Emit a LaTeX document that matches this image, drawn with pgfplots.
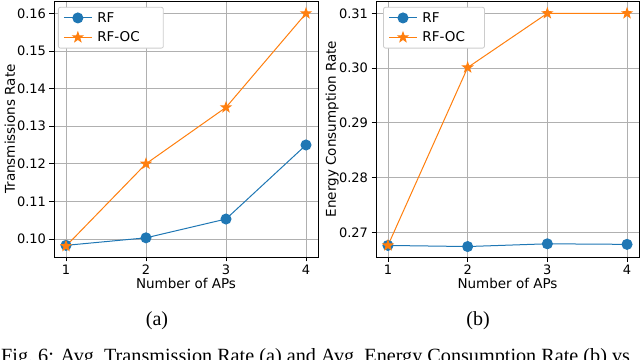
\documentclass[border=0pt]{standalone}
\usepackage{fontspec}
\setmainfont{Liberation Serif}
\newfontfamily\dejavu{DejaVu Sans}
\usepackage{pgfplots}
\pgfplotsset{compat=1.18}

\definecolor{tabblue}{HTML}{1F77B4}
\definecolor{taborange}{HTML}{FF7F0E}
\definecolor{gridgray}{HTML}{B0B0B0}
\definecolor{legendgray}{HTML}{CCCCCC}

% filled five-pointed star, like matplotlib's '*'
\pgfdeclareplotmark{fstar}{%
  \pgfpathmoveto{\pgfpointpolar{90}{\pgfplotmarksize}}%
  \pgfpathlineto{\pgfpointpolar{126}{0.4\pgfplotmarksize}}%
  \pgfpathlineto{\pgfpointpolar{162}{\pgfplotmarksize}}%
  \pgfpathlineto{\pgfpointpolar{198}{0.4\pgfplotmarksize}}%
  \pgfpathlineto{\pgfpointpolar{234}{\pgfplotmarksize}}%
  \pgfpathlineto{\pgfpointpolar{270}{0.4\pgfplotmarksize}}%
  \pgfpathlineto{\pgfpointpolar{306}{\pgfplotmarksize}}%
  \pgfpathlineto{\pgfpointpolar{342}{0.4\pgfplotmarksize}}%
  \pgfpathlineto{\pgfpointpolar{18}{\pgfplotmarksize}}%
  \pgfpathlineto{\pgfpointpolar{54}{0.4\pgfplotmarksize}}%
  \pgfpathclose
  \pgfusepathqfillstroke}

\newcommand\tickfont{\dejavu\fontsize{13bp}{15bp}\selectfont}
\newcommand\labfont{\dejavu\fontsize{13.5bp}{16bp}\selectfont}

\pgfplotsset{
  mpl/.style={
    scale only axis, height=256bp,
    axis line style={black, line width=0.8bp},
    grid=major, major grid style={gridgray, line width=0.8bp},
    tick align=outside, tick pos=left, major tick length=4.5bp,
    tick style={black, line width=0.8bp},
    xmin=0.85, xmax=4.15, xtick={1,2,3,4},
    ticklabel style={font=\tickfont},
    label style={font=\labfont},
    /pgf/number format/assume math mode=true,
    yticklabel style={/pgf/number format/.cd, fixed, fixed zerofill, precision=2},
    scaled y ticks=false,
    xlabel={Number of APs},
    xlabel style={at={(axis description cs:0.5,-0.105)}, anchor=center},
    legend style={font=\labfont, draw=legendgray, line width=0.8bp,
                  rounded corners=2bp, anchor=north west, row sep=4bp,
                  inner xsep=5bp, inner ysep=3bp},
    legend cell align=left,
    legend image code/.code={\draw[mark repeat=2, mark phase=2]
      plot coordinates {(0bp,0bp) (14bp,0bp) (28bp,0bp)};},
  },
  rf/.style={tabblue, line width=1bp, mark=*, mark size=5bp,
             mark options={solid, fill=tabblue}},
  rfoc/.style={taborange, line width=1bp, mark=fstar, mark size=5bp,
               mark options={solid, fill=taborange}},
}

\begin{document}
\begin{tikzpicture}
\useasboundingbox (0,0) rectangle (640bp,360bp);

% (a) transmission rate
\begin{axis}[mpl, at={(54bp,103bp)}, anchor=south west, width=264bp,
    ymin=0.0952, ymax=0.1633,
    ytick={0.10,0.11,0.12,0.13,0.14,0.15,0.16},
    ylabel={Transmissions Rate},
    ylabel style={at={(axis description cs:-0.167,0.5)}, anchor=center},
    legend style={at={(0.015,0.977)}}]
\addplot[rf] coordinates {(1,0.0983) (2,0.1003) (3,0.1053) (4,0.1250)};
\addlegendentry{\hspace{3bp}RF}
\addplot[rfoc] coordinates {(1,0.0981) (2,0.1200) (3,0.1350) (4,0.1600)};
\addlegendentry{\makebox[62bp][l]{\hspace{3bp}RF-OC}}
\end{axis}

% (b) energy consumption rate
\begin{axis}[mpl, at={(376bp,103bp)}, anchor=south west, width=263bp,
    ymin=0.26549, ymax=0.31225,
    ytick={0.27,0.28,0.29,0.30,0.31},
    ylabel={Energy Consumption Rate},
    ylabel style={at={(axis description cs:-0.167,0.5)}, anchor=center},
    legend style={at={(0.027,0.977)}}]
\addplot[rf] coordinates {(1,0.2676) (2,0.2674) (3,0.2679) (4,0.2678)};
\addlegendentry{\hspace{3bp}RF}
\addplot[rfoc] coordinates {(1,0.2676) (2,0.3001) (3,0.3100) (4,0.3100)};
\addlegendentry{\makebox[58bp][l]{\hspace{3bp}RF-OC}}
\end{axis}

\node[font=\fontsize{20bp}{24bp}\selectfont, anchor=base] at (157bp,34.5bp) {(a)};
\node[font=\fontsize{20bp}{24bp}\selectfont, anchor=base] at (478bp,34.5bp) {(b)};
\node[font=\fontsize{20.2bp}{24bp}\selectfont, anchor=base west, inner sep=0pt]
  at (1bp,-2bp) {Fig.~6: Avg.~Transmission Rate (a) and Avg.~Energy Consumption Rate (b) vs};
\end{tikzpicture}
\end{document}
